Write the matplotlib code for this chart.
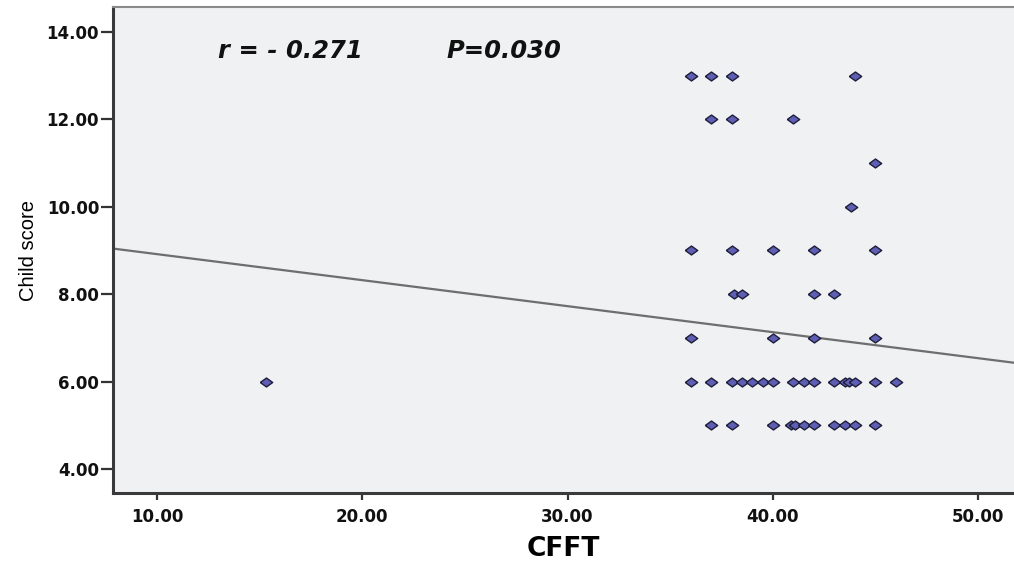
"""
Scatter of child score against CFFT with the fitted line
"""

import matplotlib
matplotlib.use("Agg")
import matplotlib.pyplot as plt
import numpy as np

# values, one row of scores at a time
cfft = [
    36, 37, 38, 44,                                   # score 13
    37, 38, 41,                                       # score 12
    45,                                               # score 11
    43.8,                                             # score 10
    36, 38, 40, 42, 45,                               # score 9
    38.1, 38.5, 42, 43,                               # score 8
    36, 40, 42, 45,                                   # score 7
    15.3, 36, 37, 38, 38.5, 39, 39.5, 40, 41, 41.5,   # score 6
    42, 43, 43.5, 43.7, 44, 45, 46,
    37, 38, 40, 40.9, 41.1, 41.5, 42, 43, 43.5, 44, 45,  # score 5
]
child_score = (
    [13] * 4 + [12] * 3 + [11] + [10] + [9] * 5 + [8] * 4 + [7] * 4
    + [6] * 17 + [5] * 11
)

# regression line as drawn in the reference
fit_intercept = 9.51
fit_slope = -0.0595

r_text = "r = - 0.271"
p_text = "P=0.030"

x_ticks = [10, 20, 30, 40, 50]
y_ticks = [4, 6, 8, 10, 12, 14]


def main() -> None:
    x = np.array(cfft, dtype=float)
    y = np.array(child_score, dtype=float)

    fig = plt.figure(figsize=(10.14, 5.63), dpi=100)
    ax = fig.add_axes([0.1114, 0.1243, 0.8886, 0.8633])
    ax.set_facecolor("#f0f1f3")

    xlim = (7.85, 51.75)
    ax.set_xlim(xlim)
    ax.set_ylim(3.45, 14.57)

    xs = np.array(xlim)
    ax.plot(xs, fit_intercept + fit_slope * xs, color="#6e6e6e", lw=1.6,
            zorder=2)

    # flattened diamond like the SPSS marker
    diamond = [(-1, 0), (0, 0.72), (1, 0), (0, -0.72), (-1, 0)]
    ax.scatter(x, y, marker=diamond, s=80, color="#5e5eb4",
               edgecolors="#1e1e3a", linewidths=1.0, zorder=3)

    ax.text(12.96, 13.4, r_text, fontsize=17.5, fontweight="bold",
            style="italic", family="DejaVu Sans", color="#111111")
    ax.text(24.1, 13.4, p_text, fontsize=17.5, fontweight="bold",
            style="italic", family="DejaVu Sans", color="#111111")

    ax.set_xticks(x_ticks)
    ax.set_xticklabels([f"{v:.2f}" for v in x_ticks])
    ax.set_yticks(y_ticks)
    ax.set_yticklabels([f"{v:.2f}" for v in y_ticks])
    for lab in ax.get_xticklabels() + ax.get_yticklabels():
        lab.set_fontweight("bold")
        lab.set_fontsize(12)
        lab.set_family("DejaVu Sans")
        lab.set_color("#111111")
    ax.tick_params(axis="y", length=9, width=1.6, pad=1, color="#333333")
    ax.tick_params(axis="x", length=5, width=1.6, pad=6, color="#333333")

    for side in ("left", "bottom"):
        ax.spines[side].set_color("#3a3a3a")
        ax.spines[side].set_linewidth(2.2)
    ax.spines["top"].set_color("#8a8a8a")
    ax.spines["top"].set_linewidth(1.5)
    ax.spines["right"].set_visible(False)

    ax.set_xlabel("CFFT", fontsize=19, fontweight="bold",
                  family="DejaVu Sans", labelpad=7)
    ax.set_ylabel("Child score", fontsize=14.5, family="Liberation Sans",
                  labelpad=6)

    fig.savefig("out.png", dpi=100)


if __name__ == "__main__":
    main()
